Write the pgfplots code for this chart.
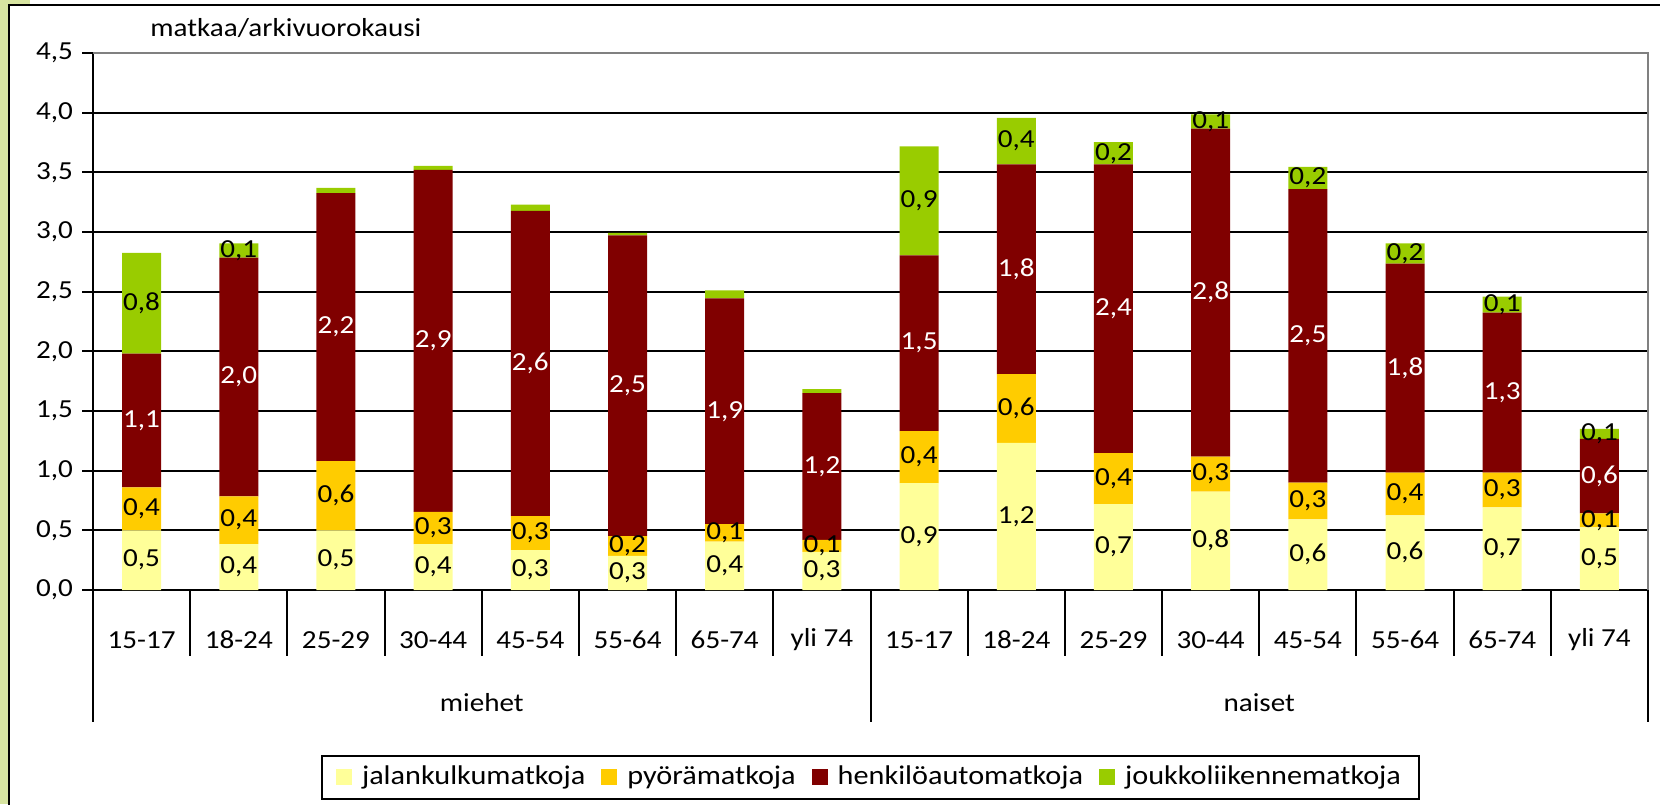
\documentclass[border=0pt]{standalone}
\usepackage{pgfplots}
\pgfplotsset{compat=1.18}
\usepackage{pgfplotstable}
\usepackage{fontspec}
\setmainfont{Carlito}[FakeStretch=1.12]

\definecolor{cJal}{HTML}{FFFF99}
\definecolor{cPyo}{HTML}{FFCC00}
\definecolor{cHen}{HTML}{800000}
\definecolor{cJou}{HTML}{99CC00}
\definecolor{cStrip}{HTML}{D7E4A0}

\pgfplotstableread{
x  a      al     b      bl     c      cl     d      dl
0  0.500  0,5    0.360  0,4    1.120  1,1    0.845  0,8
1  0.385  0,4    0.400  0,4    2.000  2,0    0.120  0,1
2  0.500  0,5    0.580  0,6    2.245  2,2    0.045  {}
3  0.385  0,4    0.270  0,3    2.865  2,9    0.035  {}
4  0.335  0,3    0.284  0,3    2.558  2,6    0.053  {}
5  0.285  0,3    0.167  0,2    2.520  2,5    0.020  {}
6  0.405  0,4    0.147  0,1    1.892  1,9    0.067  {}
7  0.320  0,3    0.100  0,1    1.230  1,2    0.033  {}
8  0.896  0,9    0.435  0,4    1.473  1,5    0.914  0,9
9  1.233  1,2    0.575  0,6    1.759  1,8    0.390  0,4
10 0.720  0,7    0.427  0,4    2.420  2,4    0.186  0,2
11 0.825  0,8    0.292  0,3    2.750  2,8    0.118  0,1
12 0.592  0,6    0.308  0,3    2.460  2,5    0.185  0,2
13 0.625  0,6    0.358  0,4    1.753  1,8    0.168  0,2
14 0.692  0,7    0.291  0,3    1.342  1,3    0.133  0,1
15 0.525  0,5    0.117  0,1    0.625  0,6    0.083  0,1
}\data

\begin{document}
\fontsize{13}{15}\selectfont
\begin{tikzpicture}
\path[use as bounding box] (0,0) rectangle (830pt,402pt);
\fill[cStrip] (0,0) rectangle (3.8pt,402pt);
\fill[cStrip] (0,400pt) rectangle (15pt,402pt);
\draw[black, line width=1pt] (4.3pt,-2pt) -- (4.3pt,399.5pt) -- (834pt,399.5pt);
\node[anchor=base west, inner sep=0pt] at (75pt,383.5pt) {matkaa/arkivuorokausi};

\begin{axis}[
  at={(46.5pt,107pt)}, anchor=south west,
  scale only axis, width=777.5pt, height=268.5pt,
  clip=false,
  ybar stacked, bar width=19.5pt,
  xmin=-0.5, xmax=15.5, ymin=0, ymax=4.5,
  ytick={0,0.5,1,1.5,2,2.5,3,3.5,4,4.5},
  xtick={0,1,2,3,4,5,6,7,8,9,10,11,12,13,14,15},
  xticklabels={15-17,18-24,25-29,30-44,45-54,55-64,65-74,yli 74,15-17,18-24,25-29,30-44,45-54,55-64,65-74,yli 74},
  axis x line*=bottom, axis y line*=left,
  axis line style={black, line width=1pt},
  ymajorgrids, major grid style={black, line width=1pt},
  tick align=outside, major tick length=5.5pt,
  ytick style={black, line width=1pt},
  xtick style={draw=none},
  yticklabel style={/pgf/number format/fixed, /pgf/number format/fixed zerofill, /pgf/number format/precision=1, /pgf/number format/use comma},
  /pgf/number format/assume math mode=true,
  ticklabel style={font=\fontsize{13}{15}\selectfont},
  xticklabel style={anchor=center, yshift=-19.5pt},
  point meta=explicit symbolic,
  nodes near coords,
  every node near coord/.append style={anchor=center, inner sep=0pt, font=\fontsize{13}{15}\selectfont},
  legend style={at={(0.5,-0.349)}, anchor=center, legend columns=4, draw=black, line width=1pt,
    font=\fontsize{13.5}{15}\selectfont, inner xsep=7pt, inner ysep=3pt,
    /tikz/every odd column/.append style={column sep=3pt},
    /tikz/every even column/.append style={column sep=6pt}},
  legend image code/.code={\fill[#1] (0pt,-4pt) rectangle (8pt,4pt);},
]
\addplot[fill=cJal, draw=none, nodes near coords style={text=black}]
  table[x=x, y=a, meta=al] {\data};
\addplot[fill=cPyo, draw=none, nodes near coords style={text=black}]
  table[x=x, y=b, meta=bl] {\data};
\addplot[fill=cHen, draw=none, nodes near coords style={text=white}]
  table[x=x, y=c, meta=cl] {\data};
\addplot[fill=cJou, draw=none, nodes near coords style={text=black}]
  table[x=x, y=d, meta=dl] {\data};
\legend{jalankulkumatkoja, pyörämatkoja, henkilöautomatkoja, joukkoliikennematkoja}

\draw[gray, line width=1pt] (rel axis cs:0,1) -- (rel axis cs:1,1) -- (rel axis cs:1,0);
\pgfplotsinvokeforeach{0.5,1.5,2.5,3.5,4.5,5.5,6.5,8.5,9.5,10.5,11.5,12.5,13.5,14.5}{
  \draw[black, line width=1pt] (axis cs:#1,0) -- ([yshift=-33pt]axis cs:#1,0);
}
\pgfplotsinvokeforeach{-0.5,7.5,15.5}{
  \draw[black, line width=1pt] (axis cs:#1,0) -- ([yshift=-66pt]axis cs:#1,0);
}
\node[anchor=center] at ([yshift=-56.5pt]axis cs:3.5,0) {miehet};
\node[anchor=center] at ([yshift=-56.5pt]axis cs:11.5,0) {naiset};
\end{axis}
\end{tikzpicture}
\end{document}
